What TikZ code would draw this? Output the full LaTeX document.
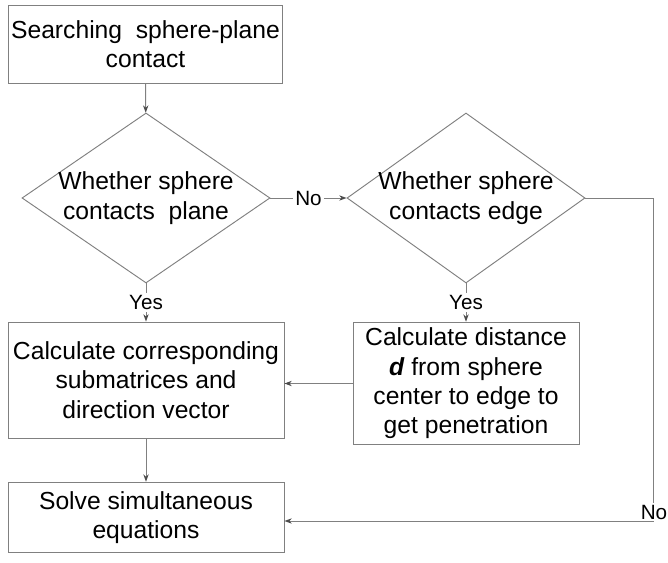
\documentclass[tikz,border=0pt]{standalone}
\usepackage{fontspec}
\setmainfont{Liberation Sans}
\usetikzlibrary{positioning,arrows.meta,shapes.geometric}
\tikzset{
  process/.style  = {draw=black!50, line width=0.7pt, align=center, inner sep=2pt,
                     font=\fontsize{18.5}{22}\selectfont},
  decision/.style = {diamond, draw=black!50, line width=0.7pt, inner sep=0pt},
  dectext/.style  = {align=center, inner sep=0pt, font=\fontsize{18.5}{22}\selectfont},
  tag/.style      = {fill=white, inner sep=1.5pt, font=\fontsize{15.5}{17}\selectfont},
  arrow/.style    = {-{Stealth[length=5.5pt,width=4pt,color=black!70]}, draw=black!50, line width=0.7pt},
}
\begin{document}
\begin{tikzpicture}[x=0.75pt, y=-0.75pt]
  \useasboundingbox[fill=white] (0,0) rectangle (668,563);
  % boxes and decisions
  \node[process, minimum width=206pt, minimum height=58.5pt] (search) at (145.5,44)
       {Searching\ \ sphere-plane\\contact};
  \node[decision, minimum width=186pt, minimum height=127.5pt,
        label={[dectext]center:Whether sphere\\contacts\ \ plane}] (plane) at (146,198) {};
  \node[decision, minimum width=178.5pt, minimum height=127.5pt,
        label={[dectext]center:Whether sphere\\contacts edge}] (edge) at (466,198) {};
  \node[process, minimum width=207pt, minimum height=87pt] (submat) at (146,380)
       {Calculate corresponding\\submatrices and\\direction vector};
  \node[process, minimum width=169.5pt, minimum height=92pt] (dist) at (466,383.5)
       {Calculate distance\\\textbf{\textit{d}} from sphere\\center to edge to\\get penetration};
  \node[process, minimum width=207pt, minimum height=53pt] (solve) at (146,517.5)
       {Solve simultaneous\\equations};
  \coordinate (corner) at (653,521);
  % connectors
  \draw[arrow] (search) -- (plane);
  \draw[arrow] (plane) -- node[tag] {No} (edge);
  \draw[arrow] (plane) -- node[tag] {Yes} (submat);
  \draw[arrow] (edge) -- node[tag] {Yes} (dist);
  \draw[arrow] (dist.west) -- (submat.east |- dist.west);
  \draw[arrow] (submat) -- (solve);
  \draw[arrow] (edge.east) -| (corner) -- (solve.east |- corner);
  \node[tag] (no2) at (654,512) {No};
\end{tikzpicture}
\end{document}
